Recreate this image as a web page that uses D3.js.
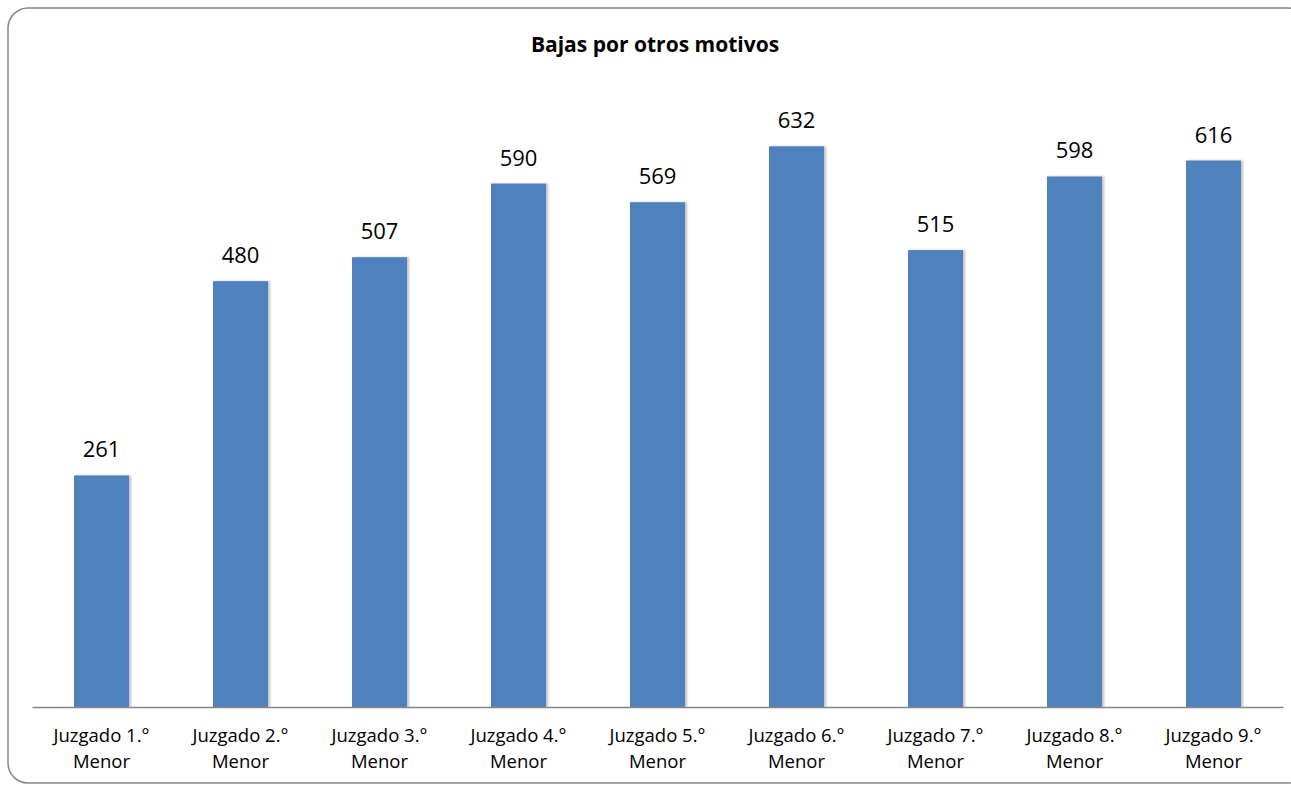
<!DOCTYPE html>
<html>
<head>
<meta charset="utf-8">
<script src="https://cdn.jsdelivr.net/npm/d3@7"></script>
<style>
	body { margin: 0; background: #fff; }
	text { font-family: "Open Sans", sans-serif; fill: #000; }
</style>
</head>
<body>
<svg></svg>
<script>
const size = { w: 1291, h: 785 };
const margin = { t: 86, r: 8, b: 78, l: 32 };

const title = "Bajas por otros motivos";
const juzgados = ["Juzgado 1.°", "Juzgado 2.°", "Juzgado 3.°", "Juzgado 4.°", "Juzgado 5.°",
	"Juzgado 6.°", "Juzgado 7.°", "Juzgado 8.°", "Juzgado 9.°"];
const subLabel = "Menor";
const bajas = [261, 480, 507, 590, 569, 632, 515, 598, 616];

const svg = d3.select("svg").attr("width", size.w).attr("height", size.h);

// shadow on the bars
const defs = svg.append("defs");
const f = defs.append("filter").attr("id", "shadow")
	.attr("x", "-20%").attr("y", "-5%").attr("width", "140%").attr("height", "110%");
f.append("feDropShadow").attr("dx", 2).attr("dy", 0).attr("stdDeviation", 1.2)
	.attr("flood-color", "#000").attr("flood-opacity", 0.25);

// chart frame
svg.append("rect")
	.attr("x", 8).attr("y", 8)
	.attr("width", 1300).attr("height", 775)
	.attr("rx", 20).attr("ry", 20)
	.attr("fill", "none").attr("stroke", "#868686").attr("stroke-width", 1.5);

svg.append("text")
	.attr("x", 655).attr("y", 52)
	.attr("text-anchor", "middle")
	.style("font-size", "21px").style("font-weight", "bold")
	.text(title);

let x = d3.scaleBand()
	.domain(juzgados)
	.range([margin.l, size.w - margin.r])
	.paddingInner(0.604).paddingOuter(0.302);

let y = d3.scaleLinear()
	.domain([0, 700])
	.range([size.h - margin.b, margin.t]);

let barG = svg.append("g").classed("bars", true);
barG.selectAll("rect")
	.data(bajas)
	.enter()
	.append("rect")
	.attr("x", (d, i) => x(juzgados[i]))
	.attr("y", d => y(d))
	.attr("width", x.bandwidth())
	.attr("height", d => y(0) - y(d))
	.attr("fill", "#4F81BD")
	.attr("filter", "url(#shadow)");

barG.selectAll("text")
	.data(bajas)
	.enter()
	.append("text")
	.attr("x", (d, i) => x(juzgados[i]) + x.bandwidth() / 2)
	.attr("y", d => y(d) - 18)
	.attr("text-anchor", "middle")
	.style("font-size", "22px")
	.text(d => d);

// x axis
let axisG = svg.append("g")
	.attr("transform", `translate(0,${y(0)})`)
	.call(d3.axisBottom(x).tickSize(0).tickSizeOuter(0).tickFormat(""));
axisG.select(".domain").attr("stroke", "#868686").attr("stroke-width", 1.5);

let labG = svg.append("g");
let lab = labG.selectAll("text")
	.data(juzgados)
	.enter()
	.append("text")
	.attr("text-anchor", "middle")
	.attr("transform", d => `translate(${x(d) + x.bandwidth() / 2},${y(0)})`)
	.style("font-size", "18.5px");
lab.append("tspan").attr("x", 0).attr("y", 35).text(d => d);
lab.append("tspan").attr("x", 0).attr("y", 61).text(subLabel);
</script>
</body>
</html>
